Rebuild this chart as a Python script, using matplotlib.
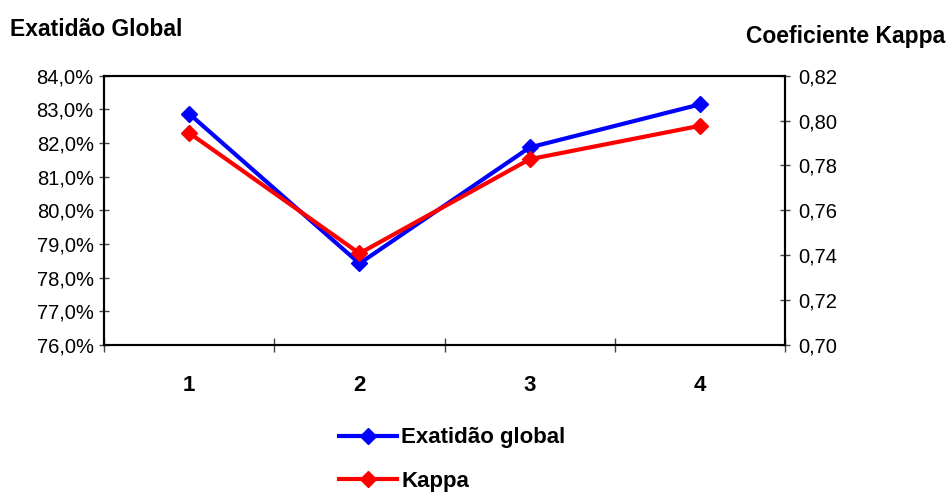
import matplotlib.pyplot as plt
from matplotlib.ticker import FuncFormatter

plt.rcParams['font.family'] = ['Liberation Sans', 'DejaVu Sans']

# Dados
categorias = [1, 2, 3, 4]
exatidao = [82.87, 78.42, 81.87, 83.15]
kappa = [0.7945, 0.7408, 0.7828, 0.7977]

fig = plt.figure(figsize=(9.46, 4.92), dpi=100)
ax = fig.add_axes([0.110, 0.299, 0.720, 0.547])
ax2 = ax.twinx()

l1, = ax.plot(categorias, exatidao, color='#0000FF', lw=3, marker='D', ms=8,
              label='Exatidão global', zorder=3)
l2, = ax2.plot(categorias, kappa, color='#FF0000', lw=3, marker='D', ms=8,
               label='Kappa', zorder=3)

ax.set_xlim(0.5, 4.5)
ax.set_ylim(76, 84)
ax.set_yticks(range(76, 85))
ax.yaxis.set_major_formatter(FuncFormatter(lambda v, p: f'{v:.1f}%'.replace('.', ',')))
ax2.set_ylim(0.70, 0.82)
ax2.set_yticks([0.70, 0.72, 0.74, 0.76, 0.78, 0.80, 0.82])
ax2.yaxis.set_major_formatter(FuncFormatter(lambda v, p: f'{v:.2f}'.replace('.', ',')))

# ticks nas fronteiras das categorias, rótulos no centro
ax.set_xticks([0.5, 1.5, 2.5, 3.5, 4.5])
ax.set_xticklabels([])
ax.set_xticks(categorias, minor=True)
ax.set_xticklabels([str(c) for c in categorias], minor=True, fontsize=16, fontweight='bold')
ax.tick_params(axis='x', which='minor', length=0, pad=22)
ax.tick_params(axis='x', which='major', direction='inout', length=10, width=1, color='#444444')

ax.tick_params(axis='y', direction='inout', length=7, width=1, labelsize=14.5, pad=4, color='#444444')
ax2.tick_params(axis='y', direction='inout', length=7, width=1, labelsize=14.5, pad=6, color='#444444')

for a in (ax, ax2):
    for s in a.spines.values():
        s.set_linewidth(1.5)
        s.set_color('black')

fig.text(0.011, 0.94, 'Exatidão Global', fontsize=16.5, fontweight='bold', ha='left', va='center')
fig.text(0.999, 0.925, 'Coeficiente Kappa', fontsize=16.5, fontweight='bold', ha='right', va='center')

fig.legend(handles=[l1, l2], loc='center', bbox_to_anchor=(0.478, 0.066), ncol=1,
           frameon=False, prop={'size': 16, 'weight': 'bold'}, handlelength=2.6,
           handletextpad=0.2, labelspacing=1.0, borderpad=0)

plt.savefig('out.png', dpi=100)
